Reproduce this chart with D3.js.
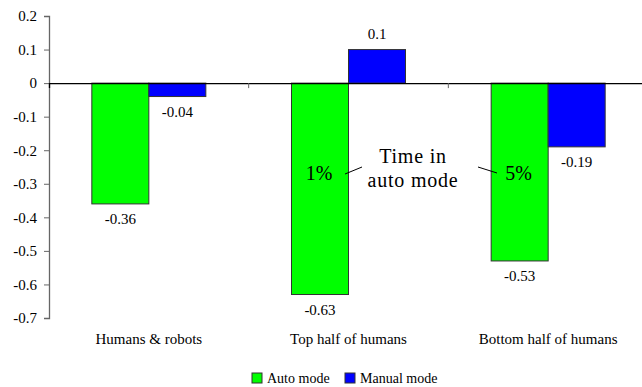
<!DOCTYPE html>
<html>
<head>
<meta charset="utf-8">
<script src="https://cdn.jsdelivr.net/npm/d3@7"></script>
<style>
  html, body { margin: 0; padding: 0; background: #fff; }
  svg { display: block; }
  svg text { font-family: "Liberation Serif", "Times New Roman", serif; fill: #000; }
</style>
</head>
<body>
<svg id="chart" width="642" height="387"></svg>
<script>
const categories = ["Humans & robots", "Top half of humans", "Bottom half of humans"];
const seriesNames = ["Auto mode", "Manual mode"];
const autoMode = [-0.36, -0.63, -0.53];
const manualMode = [-0.04, 0.1, -0.19];
const seriesColors = ["#00ff00", "#0000ff"];
const yTicks = [0.2, 0.1, 0, -0.1, -0.2, -0.3, -0.4, -0.5, -0.6, -0.7];
const yTickLabels = ["0.2", "0.1", "0", "-0.1", "-0.2", "-0.3", "-0.4", "-0.5", "-0.6", "-0.7"];
const noteLines = ["Time in", "auto mode"];
const notePercents = [{ cat: 1, text: "1%" }, { cat: 2, text: "5%" }];

const FONT = "Liberation Serif, Times New Roman, serif";
const svg = d3.select("#chart");
const plot = { left: 49, right: 648, top: 16, bottom: 318 };

const y = d3.scaleLinear().domain([-0.7, 0.2]).range([plot.bottom, plot.top]);
const x = d3.scaleBand().domain(categories).range([plot.left, plot.right]);
const barW = 57;
const xs = d3.scaleBand().domain(seriesNames).range([0, barW * 2]);
const groupOffset = (x.bandwidth() - barW * 2) / 2;

// value axis
const yAxis = d3.axisLeft(y).tickValues(yTicks).tickSize(5).tickPadding(7)
  .tickFormat((d, i) => yTickLabels[i]);
const gy = svg.append("g").attr("transform", `translate(${plot.left},0)`).call(yAxis);
gy.attr("font-family", FONT);
gy.select(".domain").attr("stroke", "#666").attr("stroke-width", 1.3);
gy.selectAll(".tick line").attr("stroke", "#666");
gy.selectAll(".tick text").attr("font-size", 15).attr("fill", "#000")
  .attr("font-family", FONT);

// bars
const data = categories.map((c, i) => ({ cat: c, values: [autoMode[i], manualMode[i]] }));
const groups = svg.append("g").selectAll("g").data(data).join("g")
  .attr("transform", d => `translate(${x(d.cat) + groupOffset},0)`);

groups.selectAll("rect").data(d => d.values.map((v, j) => ({ v, s: seriesNames[j], j })))
  .join("rect")
  .attr("x", d => xs(d.s))
  .attr("y", d => y(Math.max(0, d.v)))
  .attr("width", xs.bandwidth())
  .attr("height", d => Math.abs(y(d.v) - y(0)))
  .attr("fill", d => seriesColors[d.j])
  .attr("stroke", "#333")
  .attr("stroke-width", 1);

// value labels
groups.selectAll("text.val").data(d => d.values.map((v, j) => ({ v, s: seriesNames[j] })))
  .join("text").attr("class", "val")
  .attr("x", d => xs(d.s) + xs.bandwidth() / 2)
  .attr("y", d => d.v < 0 ? y(d.v) + 20 : y(d.v) - 11)
  .attr("text-anchor", "middle")
  .attr("font-family", FONT)
  .attr("font-size", 15)
  .text(d => String(d.v));

// category axis along zero
const xAxis = d3.axisBottom(x).tickSize(5).tickFormat("");
const gx = svg.append("g").attr("transform", `translate(0,${y(0)})`).call(xAxis);
gx.select(".domain").attr("stroke", "#000").attr("stroke-width", 1.3);
gx.selectAll(".tick line").attr("stroke", "#666")
  .attr("transform", `translate(${x.bandwidth() / 2},0)`);

// category labels below the plot
svg.append("g").selectAll("text").data(categories).join("text")
  .attr("x", d => x(d) + x.bandwidth() / 2)
  .attr("y", 344)
  .attr("text-anchor", "middle")
  .attr("font-family", FONT)
  .attr("font-size", 15)
  .text(d => d);

// annotation
const noteX = 413;
svg.append("g").selectAll("text").data(noteLines).join("text")
  .attr("x", noteX)
  .attr("y", (d, i) => 163 + i * 24)
  .attr("text-anchor", "middle")
  .attr("font-family", FONT)
  .attr("font-size", 20)
  .attr("letter-spacing", 0.8)
  .text(d => d);

svg.append("g").selectAll("text").data(notePercents).join("text")
  .attr("x", d => x(categories[d.cat]) + groupOffset + xs(seriesNames[0]) + xs.bandwidth() / 2 - 1)
  .attr("y", 180)
  .attr("text-anchor", "middle")
  .attr("font-family", FONT)
  .attr("font-size", 20)
  .text(d => d.text);

const leaders = [
  [[345, 174], [362, 167]],
  [[478, 167], [497, 173]]
];
svg.append("g").selectAll("line").data(leaders).join("line")
  .attr("x1", d => d[0][0]).attr("y1", d => d[0][1])
  .attr("x2", d => d[1][0]).attr("y2", d => d[1][1])
  .attr("stroke", "#000").attr("stroke-width", 1);

// legend
const legendItems = [
  { name: seriesNames[0], color: seriesColors[0], x: 252 },
  { name: seriesNames[1], color: seriesColors[1], x: 345 }
];
const lg = svg.append("g").selectAll("g").data(legendItems).join("g")
  .attr("transform", d => `translate(${d.x},373)`);
lg.append("rect").attr("width", 10).attr("height", 10)
  .attr("fill", d => d.color).attr("stroke", "#333").attr("stroke-width", 1);
lg.append("text").attr("x", 15).attr("y", 10)
  .attr("font-family", FONT)
  .attr("font-size", 14).text(d => d.name);
</script>
</body>
</html>
